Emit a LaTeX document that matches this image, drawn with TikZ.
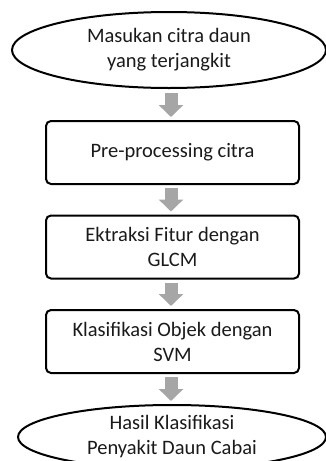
\documentclass[tikz,border=0pt]{standalone}
\usepackage{fontspec}
\setmainfont{Carlito}
\usetikzlibrary{shapes.geometric,arrows.meta,calc}
\definecolor{arrowgray}{HTML}{A6A6A6}
\definecolor{txt}{HTML}{1A1A1A}
\begin{document}
\begin{tikzpicture}[x=1pt,y=-1pt,
  every node/.style={font=\fontsize{20.5}{25}\selectfont, text=txt, align=center},
  term/.style={ellipse, draw=black, line width=2pt, inner sep=0pt},
  proc/.style={rectangle, rounded corners=5pt, draw=black, line width=2pt,
    minimum width=253pt, minimum height=63pt, inner sep=0pt},
  flow/.style={line width=13pt, draw=arrowgray, -{Triangle[width=24pt,length=12pt]}}]
\useasboundingbox (0,0) rectangle (326,461);
\node[term, minimum width=314pt, minimum height=76pt] (in) at (169,50) {Masukan citra daun\\yang terjangkit};
\node[proc] (p1) at (172.5,152.5) {Pre-processing citra};
\node[proc] (p2) at (172.5,247) {Ektraksi Fitur dengan\\GLCM};
\node[proc] (p3) at (172.5,341.5) {Klasifikasi Objek dengan\\SVM};
\node[term, minimum width=308pt, minimum height=64pt] (out) at (172,437) {Hasil Klasifikasi\\Penyakit Daun Cabai};
\draw[flow] ($(in.south -| p1.north)+(-1.5,4)$) -- ($(p1.north)+(-1.5,-3)$);
\draw[flow] ($(p1.south)+(-1.5,3)$) -- ($(p2.north)+(-1.5,-3)$);
\draw[flow] ($(p2.south)+(-1.5,3)$) -- ($(p3.north)+(-1.5,-3)$);
\draw[flow] ($(p3.south)+(-1.5,3)$) -- ($(out.north -| p3.south)+(-1.5,-3)$);
\end{tikzpicture}
\end{document}
